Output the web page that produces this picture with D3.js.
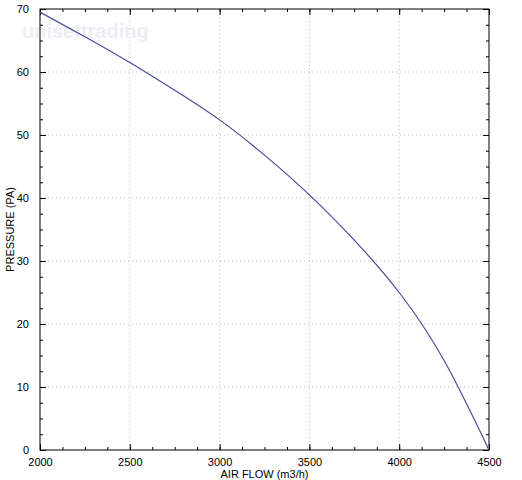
<html>
<head>
<script src="https://d3js.org/d3.v7.min.js"></script>
<style>
body { margin: 0; background: #fff; }
text { font-family: "Liberation Sans", Arial, sans-serif; }
</style>
</head>
<body>
<svg id="chart" width="522" height="480"></svg>
<script>
var flow = [2000, 2250, 2500, 2750, 3000, 3250, 3500, 3750, 4000, 4250, 4500];
var pressure = [69.5, 65.6, 61.5, 57.1, 52.4, 46.8, 40.5, 33.3, 25, 14.2, 0];
var xTicks = [2000, 2500, 3000, 3500, 4000, 4500];
var yTicks = [0, 10, 20, 30, 40, 50, 60, 70];

var mLeft = 40, mRight = 489, mTop = 9, mBottom = 450;
var svg = d3.select("#chart");
var x = d3.scaleLinear().domain([2000, 4500]).range([mLeft, mRight]);
var y = d3.scaleLinear().domain([0, 70]).range([mBottom, mTop]);

svg.append("text").attr("x", 22).attr("y", 38).attr("font-size", 20).attr("font-weight", "bold")
  .attr("fill", "#eceef3").text("unisettrading");

// grid
svg.selectAll(".gx").data(xTicks.slice(1, -1)).enter().append("line")
  .attr("x1", x).attr("x2", x).attr("y1", mTop).attr("y2", mBottom)
  .attr("stroke", "#bbb").attr("stroke-dasharray", "1,3");
svg.selectAll(".gy").data(yTicks.slice(1, -1)).enter().append("line")
  .attr("y1", y).attr("y2", y).attr("x1", mLeft).attr("x2", mRight)
  .attr("stroke", "#bbb").attr("stroke-dasharray", "1,3");

function styleAxis(g) {
  g.select(".domain").remove();
  g.selectAll("line").attr("stroke", "#000");
  g.selectAll("text").attr("font-size", 11).attr("fill", "#000");
}
var minorX = d3.range(2000, 4501, 125), minorY = d3.range(0, 70.1, 2.5);
[[d3.axisBottom, mBottom, 1], [d3.axisTop, mTop, 0]].forEach(function(a) {
  svg.append("g").attr("transform", "translate(0," + a[1] + ")")
    .call(a[0](x).tickValues(minorX).tickSize(-3).tickFormat("")).call(styleAxis);
  svg.append("g").attr("transform", "translate(0," + a[1] + ")")
    .call(a[0](x).tickValues(xTicks).tickSize(-6).tickPadding(a[2] ? 8 : 0).tickFormat(a[2] ? d3.format("d") : "")).call(styleAxis);
});
[[d3.axisLeft, mLeft, 1], [d3.axisRight, mRight, 0]].forEach(function(a) {
  svg.append("g").attr("transform", "translate(" + a[1] + ",0)")
    .call(a[0](y).tickValues(minorY).tickSize(-3).tickFormat("")).call(styleAxis);
  svg.append("g").attr("transform", "translate(" + a[1] + ",0)")
    .call(a[0](y).tickValues(yTicks).tickSize(-6).tickPadding(11).tickFormat(a[2] ? d3.format("d") : "")).call(styleAxis);
});
svg.append("rect").attr("x", mLeft).attr("y", mTop).attr("width", mRight - mLeft).attr("height", mBottom - mTop)
  .attr("fill", "none").attr("stroke", "#000");

svg.append("path").datum(flow.map(function(f, i) { return [f, pressure[i]]; }))
  .attr("fill", "none").attr("stroke", "#4a4a9a").attr("stroke-width", 1.2)
  .attr("d", d3.line().x(function(d) { return x(d[0]); }).y(function(d) { return y(d[1]); }).curve(d3.curveNatural));

svg.append("text").attr("x", (mLeft + mRight) / 2).attr("y", 478).attr("text-anchor", "middle")
  .attr("font-size", 11).text("AIR FLOW (m3/h)");
svg.append("text").attr("transform", "translate(14," + (mTop + mBottom) / 2 + ") rotate(-90)")
  .attr("text-anchor", "middle").attr("font-size", 11).text("PRESSURE (PA)");
</script>
</body>
</html>
